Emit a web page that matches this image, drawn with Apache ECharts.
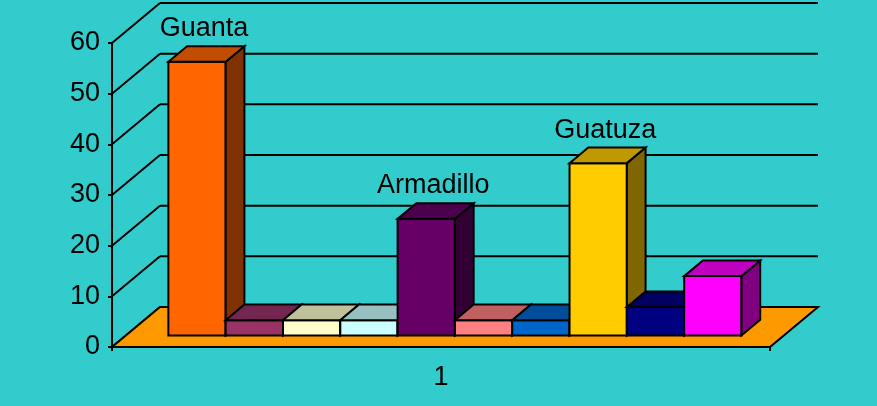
<!DOCTYPE html>
<html>
<head>
<meta charset="utf-8">
<script src="https://cdn.jsdelivr.net/npm/echarts@6/dist/echarts.min.js"></script>
<style>
    html, body { margin: 0; padding: 0; background: #33cccc; }
    #chart { width: 877px; height: 406px; }
</style>
</head>
<body>
<div id="chart"></div>
<script>
// data
const categories = ['1']
const barLabels = ['Guanta', '', '', '', 'Armadillo', '', '', 'Guatuza', '', '']
const barValues = [54, 3, 3, 3, 23, 3, 3, 34, 5.6, 11.7]
const yTicks = [0, 10, 20, 30, 40, 50, 60]

// colours: front face, top face, side face
const frontColors = ['#FF6600', '#993366', '#FFFFCC', '#CCFFFF', '#660066', '#FF8080', '#0066CC', '#FFCC00', '#000080', '#FF00FF']
const topColors = ['#C04D00', '#732650', '#C0C09A', '#99C0C0', '#4D004D', '#C06060', '#004D99', '#C09900', '#000060', '#C000C0']
const sideColors = ['#803300', '#4D1A33', '#80806A', '#668080', '#330033', '#804040', '#003366', '#806600', '#000040', '#800080']

const FONT = 'Arial, "Liberation Sans", sans-serif'
const FONT_SIZE = 27
const DEPTH = [48, -40]      // 3d depth vector (px)
const BAR_FRONT = 0.29      // bar front plane, share of depth
const BAR_DEPTH = 0.39      // bar thickness, share of depth
const GROUP = 0.871         // share of category band used by the bars
const LINE = { stroke: '#000', lineWidth: 2 }

const chart = echarts.init(document.getElementById('chart'))

// back wall + left wall lines
function renderWall(params, api) {
    const cs = params.coordSys
    const y = api.coord([0, api.value(1)])[1]
    const left = cs.x, right = cs.x + cs.width
    return {
        type: 'group',
        children: [
            { type: 'line', shape: { x1: left, y1: y, x2: left + DEPTH[0], y2: y + DEPTH[1] }, style: LINE },
            { type: 'line', shape: { x1: left + DEPTH[0], y1: y + DEPTH[1], x2: right + DEPTH[0], y2: y + DEPTH[1] }, style: LINE }
        ]
    }
}

// orange floor
function renderFloor(params, api) {
    const cs = params.coordSys
    const y = api.coord([0, 0])[1]
    const left = cs.x, right = cs.x + cs.width
    return {
        type: 'polygon',
        shape: { points: [[left, y], [right, y], [right + DEPTH[0], y + DEPTH[1]], [left + DEPTH[0], y + DEPTH[1]]] },
        style: { fill: '#FF9900', ...LINE }
    }
}

// one 3d bar per data item
function renderBar(params, api) {
    const i = params.dataIndex
    const base = api.coord([0, 0])
    const top = api.coord([0, api.value(1)])
    const band = api.size([1, 0])[0]
    const groupW = band * GROUP
    const w = groupW / barValues.length
    const fx = DEPTH[0] * BAR_FRONT, fy = DEPTH[1] * BAR_FRONT
    const dx = DEPTH[0] * BAR_DEPTH, dy = DEPTH[1] * BAR_DEPTH
    const x0 = base[0] - groupW / 2 + i * w + fx
    const x1 = x0 + w
    const yb = base[1] + fy
    const yt = top[1] + fy

    const children = [
        { type: 'polygon', shape: { points: [[x0, yt], [x1, yt], [x1, yb], [x0, yb]] },
          style: { fill: frontColors[i], ...LINE } },
        { type: 'polygon', shape: { points: [[x1, yt], [x1 + dx, yt + dy], [x1 + dx, yb + dy], [x1, yb]] },
          style: { fill: sideColors[i], ...LINE } },
        { type: 'polygon', shape: { points: [[x0, yt], [x1, yt], [x1 + dx, yt + dy], [x0 + dx, yt + dy]] },
          style: { fill: topColors[i], ...LINE } }
    ]
    if (barLabels[i]) {
        children.push({
            type: 'text',
            style: {
                text: barLabels[i], x: (x0 + x1) / 2 + 7, y: yt - 33,
                align: 'center', verticalAlign: 'middle',
                fill: '#000', font: `${FONT_SIZE}px ${FONT}`
            }
        })
    }
    return { type: 'group', children }
}

chart.setOption({
    backgroundColor: '#33CCCC',
    animation: false,
    textStyle: { fontFamily: FONT },
    grid: { left: 112, right: 107, top: 43, bottom: 59 },
    xAxis: {
        type: 'category',
        data: categories,
        axisLine: { show: true, lineStyle: { color: '#000', width: 2 } },
        axisTick: { show: true, length: 4, lineStyle: { color: '#000', width: 2 } },
        axisLabel: { color: '#000', fontSize: FONT_SIZE, fontFamily: FONT, margin: 17 }
    },
    yAxis: {
        type: 'value',
        min: 0,
        max: 60,
        interval: 10,
        axisLine: { show: true, lineStyle: { color: '#000', width: 2 } },
        axisTick: { show: true, length: 4, lineStyle: { color: '#000', width: 2 } },
        axisLabel: { color: '#000', fontSize: FONT_SIZE, fontFamily: FONT, margin: 12 },
        splitLine: { show: false }
    },
    series: [
        { type: 'custom', renderItem: renderWall, data: yTicks.map(v => [0, v]), silent: true, z: 1 },
        { type: 'custom', renderItem: renderFloor, data: [[0, 0]], silent: true, z: 2 },
        { type: 'custom', renderItem: renderBar, data: barValues.map(v => [0, v]), z: 3 }
    ]
})
</script>
</body>
</html>
